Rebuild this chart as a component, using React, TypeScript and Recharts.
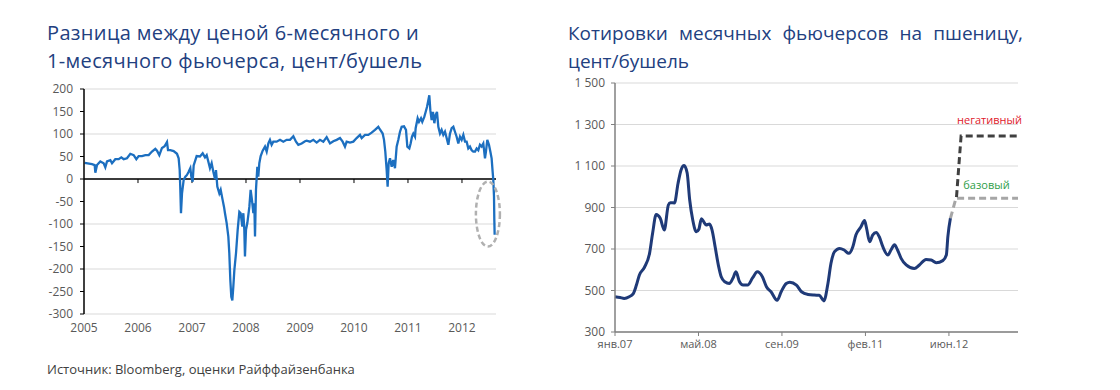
import React from 'react';
import { LineChart, Line, XAxis, YAxis, CartesianGrid, ReferenceLine, ReferenceDot } from 'recharts';

// --- left chart: spread 6m vs 1m futures, cents/bushel ---
const spreadDates = [
  2005.012, 2005.148, 2005.198, 2005.21, 2005.241, 2005.302, 2005.364, 2005.395, 2005.426, 2005.488,
  2005.519, 2005.58, 2005.642, 2005.691, 2005.735, 2005.796, 2005.858, 2005.92, 2005.969, 2006.012,
  2006.074, 2006.136, 2006.198, 2006.259, 2006.321, 2006.352, 2006.395, 2006.444, 2006.494, 2006.537,
  2006.556, 2006.599, 2006.66, 2006.722, 2006.753, 2006.772, 2006.784, 2006.796, 2006.815, 2006.846,
  2006.877, 2006.907, 2006.938, 2006.969, 2006.988, 2007.012, 2007.031, 2007.086, 2007.148, 2007.198,
  2007.241, 2007.272, 2007.302, 2007.333, 2007.364, 2007.395, 2007.426, 2007.444, 2007.469, 2007.506,
  2007.531, 2007.568, 2007.593, 2007.611, 2007.642, 2007.673, 2007.691, 2007.71, 2007.728, 2007.747,
  2007.765, 2007.784, 2007.815, 2007.846, 2007.877, 2007.901, 2007.932, 2007.951, 2007.969, 2007.981,
  2008.0, 2008.025, 2008.062, 2008.086, 2008.111, 2008.136, 2008.154, 2008.167, 2008.185, 2008.21,
  2008.228, 2008.247, 2008.272, 2008.309, 2008.352, 2008.383, 2008.414, 2008.444, 2008.475, 2008.506,
  2008.568, 2008.63, 2008.691, 2008.753, 2008.815, 2008.877, 2008.926, 2008.969, 2009.031, 2009.093,
  2009.123, 2009.185, 2009.247, 2009.309, 2009.37, 2009.432, 2009.494, 2009.556, 2009.617, 2009.679,
  2009.741, 2009.79, 2009.833, 2009.864, 2009.926, 2009.988, 2010.049, 2010.111, 2010.142, 2010.204,
  2010.265, 2010.327, 2010.389, 2010.451, 2010.481, 2010.531, 2010.556, 2010.58, 2010.605, 2010.623,
  2010.642, 2010.667, 2010.698, 2010.728, 2010.759, 2010.79, 2010.821, 2010.852, 2010.883, 2010.926,
  2010.963, 2010.988, 2011.025, 2011.049, 2011.074, 2011.099, 2011.13, 2011.142, 2011.179, 2011.204,
  2011.241, 2011.265, 2011.302, 2011.327, 2011.352, 2011.377, 2011.395, 2011.414, 2011.438, 2011.463,
  2011.488, 2011.512, 2011.537, 2011.562, 2011.593, 2011.623, 2011.654, 2011.685, 2011.716, 2011.747,
  2011.778, 2011.809, 2011.84, 2011.87, 2011.901, 2011.932, 2011.963, 2011.994, 2012.025, 2012.056,
  2012.086, 2012.117, 2012.148, 2012.179, 2012.21, 2012.241, 2012.272, 2012.302, 2012.333, 2012.364,
  2012.395, 2012.426, 2012.444, 2012.469, 2012.5, 2012.525, 2012.549, 2012.568, 2012.58, 2012.593,
  2012.599, 2012.605,
];
const spreadValues = [
  36, 33, 31, 14, 31, 39, 35, 26, 39, 42,
  35, 44, 44, 48, 44, 46, 56, 53, 44, 51,
  51, 53, 53, 61, 67, 63, 53, 69, 73, 82,
  64, 64, 62, 56, 46, 20, -24, -76, -32, -2,
  5, 9, 16, 24, 5, -6, 30, 51, 50, 57,
  48, 53, 39, 24, 35, 16, 0, 20, -17, -32,
  -24, -47, -62, -76, -98, -128, -165, -225, -262, -270,
  -240, -203, -165, -113, -73, -76, -106, -76, -113, -172,
  -113, -98, -62, -24, -47, -76, -54, -128, -24, 27,
  5, 35, 51, 63, 72, 61, 79, 87, 76, 83,
  83, 87, 83, 87, 87, 95, 83, 76, 79, 84,
  85, 83, 87, 81, 87, 83, 93, 79, 84, 87,
  91, 83, 72, 83, 81, 83, 91, 98, 91, 98,
  98, 103, 109, 116, 110, 101, 87, 61, 20, -17,
  35, 46, 27, 42, 24, 72, 87, 105, 116, 117,
  109, 72, 68, 79, 94, 101, 94, 113, 135, 127,
  135, 127, 138, 149, 160, 175, 186, 153, 131, 149,
  124, 142, 149, 116, 101, 109, 98, 105, 91, 76,
  101, 113, 116, 105, 94, 79, 94, 87, 98, 83,
  83, 68, 72, 64, 61, 61, 68, 64, 76, 72,
  79, 46, 61, 87, 76, 61, 46, 16, -2, -39,
  -91, -124,
];
const spreadYears = [2005, 2006, 2007, 2008, 2009, 2010, 2011, 2012];
const spreadTicks = [200, 150, 100, 50, 0, -50, -100, -150, -200, -250, -300];

// --- right chart: monthly wheat futures, cents/bushel (x = months since Jan 2007) ---
const wheatMonths = [
  0, 1, 1.8, 2.8, 3.6, 4.2, 4.8, 5.8, 6.8, 7.4, 8.1, 8.9, 9.7, 10.5, 10.9, 11.7, 12.4, 13.0, 13.6, 14.2,
  14.7, 15.3, 16.0, 16.5, 17.0, 17.5, 17.9, 18.6, 19.1, 19.7, 20.4, 20.9, 21.6, 22.5, 23.2, 23.8, 24.5,
  25.2, 26.1, 27.1, 28.0, 29.0, 29.8, 30.7, 31.9, 32.7, 33.7, 34.4, 35.7, 36.7, 38.0, 39.2, 40.2, 41.1,
  41.9, 42.5, 43.2, 44.2, 45.1, 46.0, 46.8, 47.4, 48.4, 49.1, 49.5, 50.1, 50.7, 51.4, 52.0, 52.7, 53.7,
  54.3, 55.0, 55.6, 56.3, 57.3, 58.9, 59.9, 61.2, 62.2, 63.2, 64.5, 65.2, 65.5, 66.0,
];
const wheatValues = [
  470, 466, 462, 470, 485, 525, 575, 612, 679, 776, 866, 848, 792, 912, 923, 922, 1016, 1081, 1102, 1066,
  936, 840, 783, 795, 846, 830, 816, 820, 791, 711, 615, 566, 542, 534, 559, 590, 542,
  526, 526, 562, 590, 566, 518, 494, 453, 494, 534, 540, 526, 494, 481, 478, 477, 450,
  534, 631, 687, 703, 695, 679, 711, 767, 807, 837, 800, 735, 767, 780, 759, 711, 671,
  695, 720, 695, 655, 623, 606, 623, 650, 647, 634, 644, 671, 760, 848,
];
const baseMonths = [66.0, 67.1, 79.3];
const baseValues = [848, 945, 945];
const negMonths = [67.2, 68.1, 79.3];
const negValues = [950, 1245, 1245];
const wheatTicks = [0, 16.43, 32.85, 49.28, 65.71];
const wheatTickLabels = ['янв.07', 'май.08', 'сен.09', 'фев.11', 'июн.12'];
const wheatYTicks = [300, 500, 700, 900, 1100, 1300, 1500];

const spreadData = spreadDates.map((d, i) => ({ d, v: spreadValues[i] }));
const wheatData = wheatMonths.map((m, i) => ({ m, v: wheatValues[i] }));
const baseData = baseMonths.map((m, i) => ({ m, v: baseValues[i] }));
const negData = negMonths.map((m, i) => ({ m, v: negValues[i] }));

const FONT = '"Open Sans", "DejaVu Sans", sans-serif';
const TITLE = '#22407f';
const TICK = '#595959';

const fmtThousands = (v: number) =>
  v >= 1000 ? `${Math.floor(v / 1000)} ${String(v % 1000).padStart(3, '0')}` : String(v);

const titleStyle: React.CSSProperties = {
  position: 'absolute',
  color: TITLE,
  fontSize: 19,
  lineHeight: '28px',
  whiteSpace: 'nowrap',
};

export default function App() {
  return (
    <div style={{ position: 'absolute', left: 0, top: 0, width: 1120, height: 390, background: '#fff', fontFamily: FONT }}>
      <div style={{ ...titleStyle, left: 47, top: 19, fontSize: 20, letterSpacing: 0.35 }}>
        <div>Разница между ценой 6-месячного и</div>
        <div>1-месячного фьючерса, цент/бушель</div>
      </div>

      <div style={{ ...titleStyle, left: 568, top: 19, width: 455 }}>
        <div style={{ textAlign: 'justify', textAlignLast: 'justify' }}>Котировки месячных фьючерсов на пшеницу,</div>
        <div>цент/бушель</div>
      </div>

      <div style={{ position: 'absolute', left: 20, top: 80 }}>
        <LineChart width={490} height={260} margin={{ top: 9, right: 14, bottom: 6, left: 0 }}>
          <CartesianGrid vertical={false} stroke="#d9d9d9" />
          <XAxis
            type="number"
            dataKey="d"
            domain={[2005, 2012.63]}
            ticks={spreadYears}
            axisLine={false}
            tickLine={false}
            tickSize={0}
            tickMargin={9}
            height={20}
            tick={{ fill: TICK, fontSize: 12 }}
          />
          <YAxis
            type="number"
            domain={[-300, 200]}
            ticks={spreadTicks}
            width={64}
            axisLine={{ stroke: '#000', strokeWidth: 1.5 }}
            tickLine={{ stroke: '#000' }}
            tickSize={4}
            tickMargin={7}
            tick={{ fill: TICK, fontSize: 12 }}
          />
          <ReferenceLine y={0} stroke="#000" strokeWidth={1.5} />
          {spreadYears.slice(1).map((yr) => (
            <ReferenceLine key={yr} segment={[{ x: yr, y: 0 }, { x: yr, y: -9 }]} stroke="#000" strokeWidth={1} />
          ))}
          <Line
            data={spreadData}
            dataKey="v"
            type="linear"
            stroke="#1c6fc0"
            strokeWidth={2.3}
            dot={false}
            isAnimationActive={false}
          />
          <ReferenceDot
            x={2012.48}
            y={-78}
            r={0}
            shape={(p: any) => (
              <ellipse cx={p.cx} cy={p.cy} rx={12} ry={32.5} fill="none" stroke="#b0b0b0" strokeWidth={2.5} strokeDasharray="5 3" />
            )}
          />
        </LineChart>
      </div>

      <div style={{ position: 'absolute', left: 540, top: 70 }}>
        <LineChart width={500} height={290} margin={{ top: 13, right: 22, bottom: 4, left: 0 }}>
          <CartesianGrid vertical={false} stroke="#d9d9d9" />
          <XAxis
            type="number"
            dataKey="m"
            domain={[0, 79.3]}
            ticks={wheatTicks}
            tickFormatter={(v: number) => wheatTickLabels[wheatTicks.indexOf(v)] ?? ''}
            axisLine={{ stroke: '#808080', strokeWidth: 1.5 }}
            tickLine={{ stroke: '#808080' }}
            tickSize={4}
            tickMargin={4}
            height={24}
            tick={{ fill: TICK, fontSize: 11 }}
          />
          <YAxis
            type="number"
            domain={[300, 1500]}
            ticks={wheatYTicks}
            tickFormatter={fmtThousands}
            width={75}
            axisLine={{ stroke: '#808080', strokeWidth: 1.5 }}
            tickLine={{ stroke: '#808080' }}
            tickSize={4}
            tickMargin={6}
            tick={{ fill: TICK, fontSize: 12 }}
          />
          <Line
            data={baseData}
            dataKey="v"
            type="linear"
            stroke="#a6a6a6"
            strokeWidth={3}
            strokeDasharray="7 4"
            dot={false}
            isAnimationActive={false}
          />
          <Line
            data={negData}
            dataKey="v"
            type="linear"
            stroke="#404040"
            strokeWidth={3}
            strokeDasharray="7 4"
            dot={false}
            isAnimationActive={false}
          />
          <Line
            data={wheatData}
            dataKey="v"
            type="monotone"
            stroke="#1f3a78"
            strokeWidth={3}
            dot={false}
            isAnimationActive={false}
          />
          <ReferenceDot
            x={73.7}
            y={1326}
            r={0}
            shape={(p: any) => (
              <text x={p.cx} y={p.cy} textAnchor="middle" dominantBaseline="central" fill="#e0202a" fontSize={11}>
                негативный
              </text>
            )}
          />
          <ReferenceDot
            x={73.1}
            y={1013}
            r={0}
            shape={(p: any) => (
              <text x={p.cx} y={p.cy} textAnchor="middle" dominantBaseline="central" fill="#2e9e48" fontSize={11}>
                базовый
              </text>
            )}
          />
        </LineChart>
      </div>

      <div style={{ position: 'absolute', left: 47, top: 360, fontSize: 13, color: '#404040', whiteSpace: 'nowrap' }}>
        Источник: Bloomberg, оценки Райффайзенбанка
      </div>
    </div>
  );
}
